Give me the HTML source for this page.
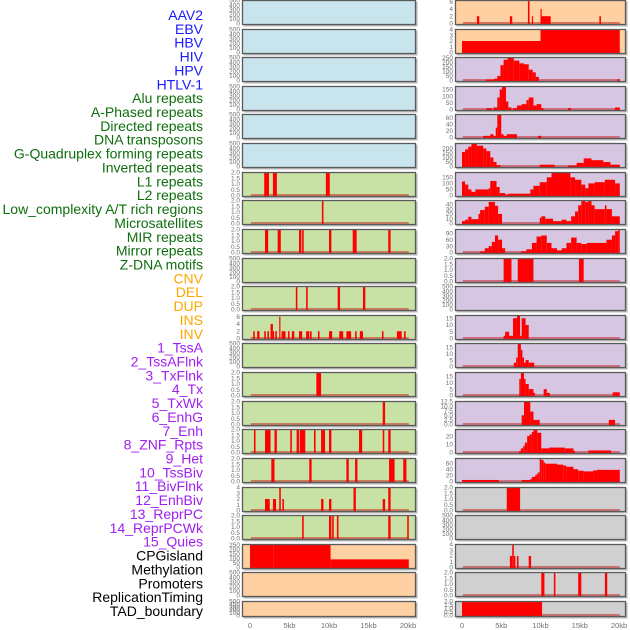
<!DOCTYPE html>
<html><head><meta charset="utf-8">
<style>
html,body{margin:0;padding:0;background:#fff;}
svg{display:block;font-family:"Liberation Sans",sans-serif;}
</style></head>
<body>
<svg id="chart" width="630" height="630" viewBox="0 0 630 630" xmlns="http://www.w3.org/2000/svg"></svg>
<script>
// ---------- track labels ----------
const labelNames = ["AAV2","EBV","HBV","HIV","HPV","HTLV-1","Alu repeats","A-Phased repeats","Directed repeats","DNA transposons","G-Quadruplex forming repeats","Inverted repeats","L1 repeats","L2 repeats","Low_complexity A/T rich regions","Microsatellites","MIR repeats","Mirror repeats","Z-DNA motifs","CNV","DEL","DUP","INS","INV","1_TssA","2_TssAFlnk","3_TxFlnk","4_Tx","5_TxWk","6_EnhG","7_Enh","8_ZNF_Rpts","9_Het","10_TssBiv","11_BivFlnk","12_EnhBiv","13_ReprPC","14_ReprPCWk","15_Quies","CPGisland","Methylation","Promoters","ReplicationTiming","TAD_boundary"];
const labelGroups = ["virus","virus","virus","virus","virus","virus","repeat","repeat","repeat","repeat","repeat","repeat","repeat","repeat","repeat","repeat","repeat","repeat","repeat","sv","sv","sv","sv","sv","chrom","chrom","chrom","chrom","chrom","chrom","chrom","chrom","chrom","chrom","chrom","chrom","chrom","chrom","chrom","other","other","other","other","other"];

// ---------- x axis ----------
const xTickValues = [0,5,10,15,20];
const xTickLabels = ["0","5kb","10kb","15kb","20kb"];

// ---------- segment data [startKb, endKb, value] ----------
const segEmpty = [];
const segAlu = [[1.8,2.4,2],[2.9,3.4,2],[9.6,10.1,2]];
const segAPhased = [[9.1,9.3,2]];
const segDirected = [[1.9,2.3,2],[3.5,3.9,2],[6.2,6.5,2],[6.6,6.8,2],[10.0,10.3,2],[13.0,13.5,2],[17.5,17.8,2]];
const segGQuad = [[5.8,6.0,2],[7.1,7.3,2],[11.1,11.4,2],[14.3,14.6,2]];
const segInverted = [[0.4,0.6,2],[0.9,1.2,2],[1.8,2.0,2],[2.2,2.4,2],[2.6,2.9,4],[2.9,3.0,2],[3.2,3.4,2],[3.7,3.8,6],[4.0,4.5,2],[4.8,5.0,2],[5.3,5.6,2],[6.2,6.6,2],[7.1,7.5,2],[7.6,7.8,2],[8.6,8.8,2],[10.0,10.4,2],[11.3,11.8,2],[12.2,12.8,2],[13.3,13.5,2],[13.9,14.3,2],[16.7,16.9,2],[18.6,19.2,2],[19.5,19.7,2]];
const segL2 = [[8.4,9.0,2]];
const segLowComplexity = [[16.8,17.1,2]];
const segMicrosat = [[0.5,0.7,2],[1.9,2.6,2],[3.1,3.4,2],[5.1,5.3,2],[5.9,6.2,2],[6.3,7.0,2],[8.1,8.3,2],[9.0,9.5,2],[10.0,10.3,2],[13.8,14.2,2],[16.8,17.0,2],[17.5,17.8,2]];
const segMIR = [[2.7,3.1,2],[7.5,7.8,2],[12.2,12.5,2],[13.3,13.6,2],[17.6,18.3,2],[19.4,19.8,2]];
const segMirror = [[1.9,2.5,2],[2.9,3.3,2],[3.7,3.9,4],[4.1,4.3,2],[9.0,9.3,2],[10.0,10.3,2],[13.1,13.4,4],[16.8,17.1,2],[17.5,17.8,4]];
const segZDNA = [[6.6,6.8,2],[10.0,10.3,2],[10.4,10.6,2],[11.0,11.2,2],[17.5,17.8,2],[19.9,20.1,2]];
const segCNV = [[0,3.0,250],[3.0,5.0,255],[5.0,10.2,250],[10.2,20.1,90]];
const segINS = [[1.9,2.2,2],[6.1,6.4,2],[8.4,8.6,6.3],[8.9,9.0,2],[10.0,10.1,4],[10.1,11.3,2],[17.5,17.7,2]];
const segINV = [[0,10.0,2],[10.0,20.1,4]];
const segTssA = [[3.0,4.1,10],[4.1,4.5,20],[4.5,4.9,50],[4.9,5.3,170],[5.3,5.8,230],[5.8,6.6,250],[6.6,7.3,220],[7.3,7.9,190],[7.9,8.5,180],[8.5,9.0,120],[9.0,9.4,90],[9.4,9.8,40],[19.8,20.1,15]];
const segTssAFlnk = [[3.1,3.8,10],[4.0,4.5,15],[4.5,4.8,90],[4.8,5.1,150],[5.1,5.6,170],[5.6,5.9,60],[5.9,6.3,15],[6.5,7.0,10],[7.0,7.6,30],[7.6,8.2,40],[8.2,8.5,70],[8.5,9.1,90],[9.1,9.5,30],[9.5,10.1,40],[10.1,10.4,10],[13.5,13.9,10],[19.5,20.1,15]];
const segTxFlnk = [[2.7,3.6,5],[3.6,4.0,10],[4.0,4.3,5],[4.3,4.5,30],[4.5,5.0,70],[5.0,5.3,10],[5.3,5.7,5],[5.7,7.0,10],[9.7,10.1,5]];
const segTx = [[0,0.4,160],[0.4,0.8,190],[0.8,1.2,220],[1.2,1.9,250],[1.9,2.7,230],[2.7,3.1,200],[3.1,3.6,170],[3.6,4.0,100],[4.0,4.4,50],[4.4,4.9,15],[9.9,11.8,20],[13.5,14.6,10],[14.6,15.5,40],[15.5,16.5,90],[16.5,18.0,70],[18.0,18.9,50],[18.9,20.1,20]];
const segTxWk = [[0,0.4,115],[0.4,0.8,90],[0.8,1.2,50],[1.2,1.7,30],[1.7,3.4,50],[3.4,3.6,60],[3.6,4.4,120],[4.4,4.8,70],[4.8,5.5,20],[5.5,5.9,5],[5.9,8.7,15],[8.7,9.1,50],[9.1,9.9,80],[9.9,10.8,110],[10.8,11.4,150],[11.4,13.8,190],[13.8,14.4,150],[14.4,15.2,130],[15.2,15.7,90],[15.7,16.1,60],[16.1,16.9,100],[16.9,18.2,110],[18.2,19.5,130],[19.5,20.1,100]];
const segEnhG = [[0,0.4,5],[0.4,0.8,8],[0.8,1.2,14],[1.2,2.1,9],[2.1,2.3,20],[2.3,2.9,28],[2.9,3.4,35],[3.4,4.2,45],[4.2,4.6,37],[4.6,5.1,20],[9.9,10.1,12],[10.1,10.6,15],[10.6,11.6,10],[11.6,12.7,5],[12.7,13.3,8],[13.3,13.9,5],[13.9,14.4,15],[14.4,14.8,25],[14.8,15.2,38],[15.2,15.7,47],[15.7,16.1,45],[16.1,16.5,47],[16.5,16.9,38],[16.9,18.2,30],[18.2,18.4,38],[18.4,19.1,30],[19.1,20.1,15]];
const segEnh = [[2.3,2.9,5],[2.9,3.4,20],[3.4,3.8,30],[3.8,4.2,50],[4.2,4.6,80],[4.6,5.1,60],[5.1,5.5,20],[7.5,8.2,5],[8.2,8.9,15],[8.9,9.5,45],[9.5,10.1,75],[10.1,10.8,80],[10.8,11.4,45],[11.4,12.1,20],[12.1,12.7,10],[12.7,13.3,20],[13.3,13.9,45],[13.9,14.6,70],[14.6,15.2,45],[15.2,15.9,40],[15.9,18.4,45],[18.4,19.1,60],[19.1,19.5,80],[19.5,19.9,100],[19.9,20.1,108]];
const segZNF = [[5.3,6.3,2],[7.1,9.1,2],[14.9,15.5,2]];
const segTssBiv = [[5.3,5.5,2],[5.5,6.0,5],[6.0,6.5,2],[6.5,7.0,15],[7.0,7.4,17],[7.4,7.6,2],[7.6,8.1,15],[8.1,8.5,10]];
const segBivFlnk = [[6.6,6.9,3],[6.9,7.1,7],[7.1,7.5,18],[7.5,7.7,13],[7.7,7.9,7],[7.9,8.1,3],[8.1,8.5,5],[8.5,9.2,3]];
const segEnhBiv = [[7.3,7.5,13],[7.5,7.9,18],[7.9,8.1,13],[8.1,8.5,9],[8.5,9.1,5],[9.1,9.3,2],[10.4,10.8,5],[10.8,11.2,2],[19.2,20.1,2.5]];
const segReprPC = [[7.6,7.9,5],[7.9,8.7,12.5],[8.7,9.1,7],[9.1,9.9,2.5],[18.7,19.5,2.5]];
const segReprPCWk = [[7.3,7.5,2],[7.5,7.8,5],[7.8,8.0,8],[8.0,8.3,12],[8.3,8.6,20],[8.6,8.9,22],[8.9,9.1,25],[9.1,9.6,28],[9.6,10.1,24],[10.1,11.1,5],[11.1,13.1,6],[13.1,14.2,5],[14.2,14.4,2],[16.1,19.0,2.5]];
const segQuies = [[0,4.7,5],[7.6,8.7,5],[8.7,8.9,8],[8.9,9.3,15],[9.3,9.5,20],[9.5,9.7,25],[9.7,9.9,30],[9.9,10.1,75],[10.1,10.4,70],[10.4,10.6,62],[10.6,12.1,58],[12.1,12.9,55],[12.9,13.3,52],[13.3,14.2,48],[14.2,14.8,40],[14.8,15.5,35],[15.5,16.7,33],[16.7,17.2,36],[17.2,20.1,38]];
const segCPG = [[5.7,7.4,2]];
const segPromoters = [[6.1,6.4,2],[6.4,6.6,4],[6.6,6.8,2],[7.0,7.2,2],[8.5,8.8,2]];
const segRepTiming = [[10.1,10.5,2],[11.7,11.9,2],[14.8,15.2,2],[18.2,18.5,2]];
const segTAD = [[0,10.2,2]];

// ---------- y ranges and tick labels ----------
const ticksEmpty = [0,100,200,300,400,500];
const ticks2 = [0,0.5,1.0,1.5,2.0];
const ticks4 = [0,1,2,3,4];
const ticks6 = [0,2,4,6];
const ticks250 = [0,50,100,150,200,250];

// middle column: [name, group, segments, yMax, ticks, decimals]
const midTracks = [
 ["AAV2","virus",segEmpty,500,ticksEmpty,0],
 ["EBV","virus",segEmpty,500,ticksEmpty,0],
 ["HBV","virus",segEmpty,500,ticksEmpty,0],
 ["HIV","virus",segEmpty,500,ticksEmpty,0],
 ["HPV","virus",segEmpty,500,ticksEmpty,0],
 ["HTLV-1","virus",segEmpty,500,ticksEmpty,0],
 ["Alu","repeat",segAlu,2,ticks2,1],
 ["A-Phased","repeat",segAPhased,2,ticks2,1],
 ["Directed","repeat",segDirected,2,ticks2,1],
 ["DNA-transposons","repeat",segEmpty,500,ticksEmpty,0],
 ["G-Quadruplex","repeat",segGQuad,2,ticks2,1],
 ["Inverted","repeat",segInverted,6.3,ticks6,0],
 ["L1","repeat",segEmpty,500,ticksEmpty,0],
 ["L2","repeat",segL2,2,ticks2,1],
 ["Low-complexity","repeat",segLowComplexity,2,ticks2,1],
 ["Microsatellites","repeat",segMicrosat,2,ticks2,1],
 ["MIR","repeat",segMIR,2,ticks2,1],
 ["Mirror","repeat",segMirror,4,ticks4,0],
 ["Z-DNA","repeat",segZDNA,2,ticks2,1],
 ["CNV","sv",segCNV,255,ticks250,0],
 ["DEL","sv",segEmpty,500,ticksEmpty,0],
 ["DUP","sv",segEmpty,500,ticksEmpty,0]
];
const rightTracks = [
 ["INS","sv",segINS,6.3,ticks6,0],
 ["INV","sv",segINV,4,ticks4,0],
 ["1_TssA","chrom",segTssA,255,ticks250,0],
 ["2_TssAFlnk","chrom",segTssAFlnk,172,[0,50,100,150],0],
 ["3_TxFlnk","chrom",segTxFlnk,70,[0,20,40,60],0],
 ["4_Tx","chrom",segTx,255,[0,50,100,150,200],0],
 ["5_TxWk","chrom",segTxWk,190,[0,50,100,150],0],
 ["6_EnhG","chrom",segEnhG,48,[0,10,20,30,40],0],
 ["7_Enh","chrom",segEnh,108,[0,30,60,90],0],
 ["8_ZNF_Rpts","chrom",segZNF,2,ticks2,1],
 ["9_Het","chrom",segEmpty,500,ticksEmpty,0],
 ["10_TssBiv","chrom",segTssBiv,17,[0,5,10,15],0],
 ["11_BivFlnk","chrom",segBivFlnk,18,[0,5,10,15],0],
 ["12_EnhBiv","chrom",segEnhBiv,18,[0,5,10,15],0],
 ["13_ReprPC","chrom",segReprPC,12.5,[0,2.5,5.0,7.5,10.0,12.5],1],
 ["14_ReprPCWk","chrom",segReprPCWk,28,[0,10,20],0],
 ["15_Quies","chrom",segQuies,75,[0,20,40,60],0],
 ["CPGisland","other",segCPG,2,ticks2,1],
 ["Methylation","other",segEmpty,500,ticksEmpty,0],
 ["Promoters","other",segPromoters,4,ticks4,0],
 ["ReplicationTiming","other",segRepTiming,2,ticks2,1],
 ["TAD_boundary","other",segTAD,2,ticks2,1]
];

// ---------- styling ----------
const labelColor = {virus:"#1a1aff",repeat:"#0e6e0e",sv:"#ffa500",chrom:"#a020f0",other:"#000000"};
const bgMid = {virus:"#c8e4ec",repeat:"#c8e2a6",sv:"#ffd1a2",chrom:"#d6c6e2",other:"#d0d0d0"};
const bgRight = {virus:"#c8e4ec",repeat:"#c8e2a6",sv:"#ffd1a2",chrom:"#d6c6e2",other:"#d0d0d0"};

const NS = "http://www.w3.org/2000/svg";
const svg = document.getElementById("chart");
function mk(tag, attrs, parent){
  const e = document.createElementNS(NS, tag);
  for (const k in attrs) e.setAttribute(k, attrs[k]);
  (parent||svg).appendChild(e);
  return e;
}

// labels
labelNames.forEach((n,i)=>{
  const t = mk("text",{x:203,y:(15+i*13.86+5).toFixed(1),"text-anchor":"end","font-size":"14",fill:labelColor[labelGroups[i]]});
  
  
  t.textContent = n;
});

const cols = [
  {tracks:midTracks, boxL:242, boxR:416, x0:250, kb:7.9, tickX:240, bg:bgMid, name:"middle"},
  {tracks:rightTracks, boxL:455, boxR:626, x0:462, kb:7.85, tickX:453, bg:bgRight, name:"right"}
];

function rowTop(i){ return Math.round(i*28.62); }
function rowH(i){ return i===21 ? 16 : 25; }

cols.forEach(col=>{
  const xs = kb => col.x0 + kb*col.kb;
  col.tracks.forEach((tr,i)=>{
    const [name, grp, segs, ymax, ticks, dec] = tr;
    const top = rowTop(i), h = rowH(i);
    const g = mk("g",{});
    
    
    const y0 = top + h - 1.5, y1 = top + 0.5;
    const ys = v => y0 - (v/ymax)*(y0-y1);
    // shadow
    mk("rect",{x:col.boxL+1.5,y:top+1.5,width:col.boxR-col.boxL,height:h,fill:"#b8b8b8"},g);
    // background
    const bgRect = mk("rect",{x:col.boxL,y:top,width:col.boxR-col.boxL,height:h,fill:col.bg[grp]},g);
    
    
    // clip
    const cid = "c_"+col.name+i;
    const cp = mk("clipPath",{id:cid},g);
    mk("rect",{x:col.boxL,y:top,width:col.boxR-col.boxL,height:h},cp);
    const inner = mk("g",{"clip-path":"url(#"+cid+")"},g);
    // baseline
    if (segs.length){
      const bl = mk("line",{x1:xs(0.1),x2:xs(20.1),y1:y0-0.5,y2:y0-0.5,stroke:"rgba(200,0,0,0.45)","stroke-width":2},inner);
      
      
    }
    segs.forEach(s=>{
      const x1 = xs(s[0]), x2 = xs(s[1]);
      const yt = ys(s[2]);
      const r = mk("rect",{x:x1.toFixed(2),y:yt.toFixed(2),width:Math.max(1.2,x2-x1).toFixed(2),height:(y0-yt+1).toFixed(2),fill:"#ff0000"},inner);
      
      
    });
    // border
    mk("rect",{x:col.boxL+0.5,y:top+0.5,width:col.boxR-col.boxL-1,height:h-1,fill:"none",stroke:"#5a5a5a","stroke-width":1.3},g);
    // ticks
    ticks.forEach(tv=>{
      const t = mk("text",{x:col.tickX,y:(ys(tv)+2.2).toFixed(1),"text-anchor":"end","font-size":"6.5",fill:"#707070"},g);
      
      
      t.textContent = tv.toFixed(dec);
    });
  });
  // x ticks
  xTickValues.forEach((v,j)=>{
    const t = mk("text",{x:xs(v).toFixed(1),y:628,"text-anchor":"middle","font-size":"7.5",fill:"#707070"});
    
    
    t.textContent = xTickLabels[j];
  });
});
</script>
</body></html>
